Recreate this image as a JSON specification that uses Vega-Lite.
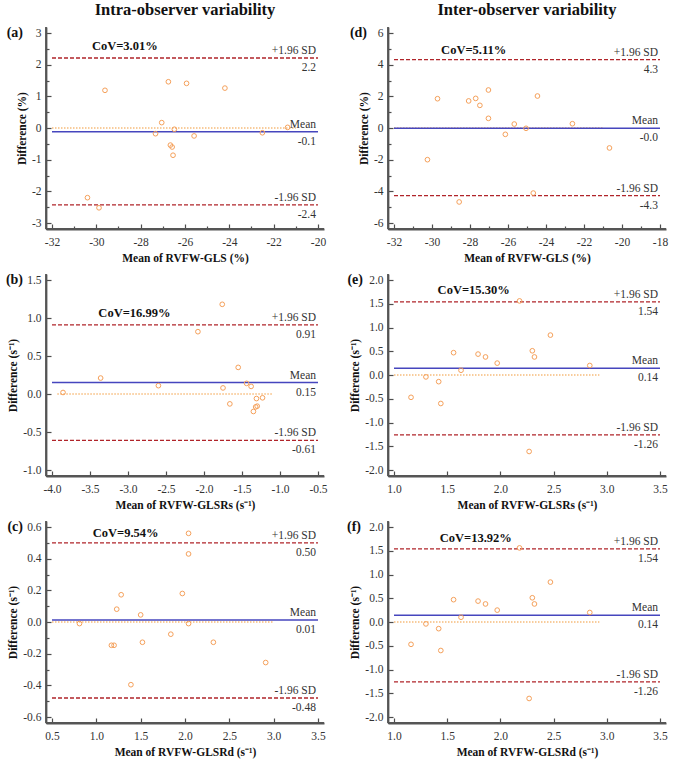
{
"$schema":"https://vega.github.io/schema/vega-lite/v6.json",
"padding":{"left":5,"top":1,"right":5,"bottom":3},
"columns":2,
"spacing":{"row":45,"column":64},
"bounds":"flush",
"datasets":{
"points":[
{"panel":"a","x":-29.61,"y":1.19},{"panel":"a","x":-30.40,"y":-2.20},{"panel":"a","x":-29.88,"y":-2.52},{"panel":"a","x":-26.75,"y":1.46},{"panel":"a","x":-25.93,"y":1.41},{"panel":"a","x":-24.20,"y":1.26},{"panel":"a","x":-27.05,"y":0.17},{"panel":"a","x":-27.33,"y":-0.18},{"panel":"a","x":-26.48,"y":-0.04},{"panel":"a","x":-26.66,"y":-0.54},{"panel":"a","x":-26.58,"y":-0.60},{"panel":"a","x":-26.54,"y":-0.86},{"panel":"a","x":-25.59,"y":-0.25},{"panel":"a","x":-22.51,"y":-0.15},{"panel":"a","x":-21.37,"y":0.02},
{"panel":"d","x":-29.71,"y":1.85},{"panel":"d","x":-30.24,"y":-2.0},{"panel":"d","x":-28.57,"y":-4.67},{"panel":"d","x":-28.07,"y":1.71},{"panel":"d","x":-27.70,"y":1.87},{"panel":"d","x":-27.48,"y":1.43},{"panel":"d","x":-27.03,"y":2.40},{"panel":"d","x":-27.03,"y":0.61},{"panel":"d","x":-25.67,"y":0.25},{"panel":"d","x":-26.14,"y":-0.40},{"panel":"d","x":-25.05,"y":-0.02},{"panel":"d","x":-24.45,"y":2.02},{"panel":"d","x":-24.67,"y":-4.11},{"panel":"d","x":-22.61,"y":0.27},{"panel":"d","x":-20.66,"y":-1.26},
{"panel":"b","x":-3.855,"y":0.02},{"panel":"b","x":-3.36,"y":0.21},{"panel":"b","x":-2.60,"y":0.11},{"panel":"b","x":-2.08,"y":0.82},{"panel":"b","x":-1.76,"y":1.18},{"panel":"b","x":-1.75,"y":0.08},{"panel":"b","x":-1.66,"y":-0.13},{"panel":"b","x":-1.55,"y":0.35},{"panel":"b","x":-1.44,"y":0.14},{"panel":"b","x":-1.38,"y":0.10},{"panel":"b","x":-1.35,"y":-0.23},{"panel":"b","x":-1.32,"y":-0.17},{"panel":"b","x":-1.30,"y":-0.16},{"panel":"b","x":-1.31,"y":-0.06},{"panel":"b","x":-1.23,"y":-0.05},
{"panel":"e","x":1.16,"y":-0.47},{"panel":"e","x":1.30,"y":-0.04},{"panel":"e","x":1.42,"y":-0.14},{"panel":"e","x":1.44,"y":-0.60},{"panel":"e","x":1.56,"y":0.47},{"panel":"e","x":1.63,"y":0.10},{"panel":"e","x":1.79,"y":0.44},{"panel":"e","x":1.86,"y":0.38},{"panel":"e","x":1.97,"y":0.25},{"panel":"e","x":2.18,"y":1.56},{"panel":"e","x":2.27,"y":-1.61},{"panel":"e","x":2.30,"y":0.51},{"panel":"e","x":2.32,"y":0.38},{"panel":"e","x":2.47,"y":0.84},{"panel":"e","x":2.84,"y":0.20},
{"panel":"c","x":0.81,"y":-0.01},{"panel":"c","x":1.17,"y":-0.147},{"panel":"c","x":1.20,"y":-0.147},{"panel":"c","x":1.23,"y":0.081},{"panel":"c","x":1.28,"y":0.172},{"panel":"c","x":1.39,"y":-0.396},{"panel":"c","x":1.50,"y":0.045},{"panel":"c","x":1.52,"y":-0.128},{"panel":"c","x":1.84,"y":-0.077},{"panel":"c","x":1.97,"y":0.180},{"panel":"c","x":2.04,"y":0.56},{"panel":"c","x":2.04,"y":0.43},{"panel":"c","x":2.04,"y":-0.01},{"panel":"c","x":2.32,"y":-0.128},{"panel":"c","x":2.91,"y":-0.256},
{"panel":"f","x":1.16,"y":-0.47},{"panel":"f","x":1.30,"y":-0.04},{"panel":"f","x":1.42,"y":-0.14},{"panel":"f","x":1.44,"y":-0.60},{"panel":"f","x":1.56,"y":0.47},{"panel":"f","x":1.63,"y":0.10},{"panel":"f","x":1.79,"y":0.44},{"panel":"f","x":1.86,"y":0.38},{"panel":"f","x":1.97,"y":0.25},{"panel":"f","x":2.18,"y":1.56},{"panel":"f","x":2.27,"y":-1.61},{"panel":"f","x":2.30,"y":0.51},{"panel":"f","x":2.32,"y":0.38},{"panel":"f","x":2.47,"y":0.84},{"panel":"f","x":2.84,"y":0.20}
],
"lines":[
{"panel":"a","kind":"upper","y":2.21,"label":"+1.96 SD","val":"2.2"},{"panel":"a","kind":"mean","y":-0.12,"label":"Mean","val":"-0.1"},{"panel":"a","kind":"lower","y":-2.43,"label":"-1.96 SD","val":"-2.4"},
{"panel":"d","kind":"upper","y":4.32,"label":"+1.96 SD","val":"4.3"},{"panel":"d","kind":"mean","y":-0.02,"label":"Mean","val":"-0.0"},{"panel":"d","kind":"lower","y":-4.27,"label":"-1.96 SD","val":"-4.3"},
{"panel":"b","kind":"upper","y":0.91,"label":"+1.96 SD","val":"0.91"},{"panel":"b","kind":"mean","y":0.15,"label":"Mean","val":"0.15"},{"panel":"b","kind":"lower","y":-0.61,"label":"-1.96 SD","val":"-0.61"},
{"panel":"e","kind":"upper","y":1.54,"label":"+1.96 SD","val":"1.54"},{"panel":"e","kind":"mean","y":0.14,"label":"Mean","val":"0.14"},{"panel":"e","kind":"lower","y":-1.26,"label":"-1.96 SD","val":"-1.26"},
{"panel":"c","kind":"upper","y":0.50,"label":"+1.96 SD","val":"0.50"},{"panel":"c","kind":"mean","y":0.012,"label":"Mean","val":"0.01"},{"panel":"c","kind":"lower","y":-0.48,"label":"-1.96 SD","val":"-0.48"},
{"panel":"f","kind":"upper","y":1.54,"label":"+1.96 SD","val":"1.54"},{"panel":"f","kind":"mean","y":0.14,"label":"Mean","val":"0.14"},{"panel":"f","kind":"lower","y":-1.26,"label":"-1.96 SD","val":"-1.26"}
],
"zero":[
{"panel":"a","x1":-32,"x2":-21,"y":0},{"panel":"d","x1":-32,"x2":-21,"y":0},{"panel":"b","x1":-3.93,"x2":-1.1,"y":0},{"panel":"e","x1":1.0,"x2":2.93,"y":0},{"panel":"c","x1":0.5,"x2":3.0,"y":0},{"panel":"f","x1":1.0,"x2":2.93,"y":0}
],
"cov":[
{"panel":"a","x":-30.2,"y":2.58,"text":"CoV=3.01%"},{"panel":"d","x":-29.52,"y":4.95,"text":"CoV=5.11%"},{"panel":"b","x":-3.39,"y":1.07,"text":"CoV=16.99%"},{"panel":"e","x":1.41,"y":1.78,"text":"CoV=15.30%"},{"panel":"c","x":0.96,"y":0.564,"text":"CoV=9.54%"},{"panel":"f","x":1.43,"y":1.77,"text":"CoV=13.92%"}
],
"plabel":[
{"panel":"a","text":"(a)"},{"panel":"b","text":"(b)"},{"panel":"c","text":"(c)"},{"panel":"d","text":"(d)"},{"panel":"e","text":"(e)"},{"panel":"f","text":"(f)"}
]
},
"concat":[
{
"width":278,"height":202,
"title":{"text":"Intra-observer variability"},
"resolve":{"axis":{"x":"independent","y":"independent"}},
"layer":[
{"data":{"name":"points"},"transform":[{"filter":"datum.panel==='a'"}],"mark":{"type":"point","shape":"circle","filled":false,"color":"#F5A05A","size":22,"opacity":0},
"encoding":{"x":{"field":"x","type":"quantitative","scale":{"domain":[-32,-20],"nice":false,"zero":false,"padding":6},"axis":{"title":"Mean of RVFW-GLS (%)","values":[-32,-30,-28,-26,-24,-22,-20],"orient":"bottom"}},"y":{"field":"y","type":"quantitative","scale":{"domain":[-3,3],"nice":false,"zero":false,"padding":6},"axis":{"title":"Difference (%)","values":[-3,-2,-1,0,1,2,3],"orient":"left"}}}},
{"data":{"name":"plabel"},"transform":[{"filter":"datum.panel==='a'"}],"mark":{"type":"rule","color":"#555555","strokeWidth":1.8},"encoding":{"x":{"datum":-32.2707,"type":"quantitative","axis":null}}},
{"data":{"name":"plabel"},"transform":[{"filter":"datum.panel==='a'"}],"mark":{"type":"rule","color":"#555555","strokeWidth":1.8},"encoding":{"y":{"datum":-3.1895,"type":"quantitative","axis":null}}},
{"data":{"name":"zero"},"transform":[{"filter":"datum.panel==='a'"}],"mark":{"type":"rule","color":"#F29A3A","strokeDash":[1.5,1.5],"strokeWidth":1.2},
"encoding":{"x":{"field":"x1","type":"quantitative","axis":{"values":[-31,-29,-27,-25,-23,-21],"labels":false,"domain":false,"tickSize":-3,"title":null,"orient":"bottom"}},"x2":{"field":"x2"},"y":{"field":"y","type":"quantitative","axis":{"values":[-2.5,-1.5,-0.5,0.5,1.5,2.5],"labels":false,"domain":false,"tickSize":-3,"title":null,"orient":"left"}}}},
{"data":{"name":"lines"},"transform":[{"filter":"datum.panel==='a' && datum.kind!=='mean'"}],"mark":{"type":"rule","color":"#B0242A","strokeDash":[4,2],"strokeWidth":1.3},"encoding":{"x":{"datum":-32,"type":"quantitative","axis":null},"x2":{"datum":-20},"y":{"field":"y","type":"quantitative","axis":null}}},
{"data":{"name":"lines"},"transform":[{"filter":"datum.panel==='a' && datum.kind==='mean'"}],"mark":{"type":"rule","color":"#4646BE","strokeWidth":1.5},"encoding":{"x":{"datum":-32,"type":"quantitative","axis":null},"x2":{"datum":-20},"y":{"field":"y","type":"quantitative","axis":null}}},
{"data":{"name":"lines"},"transform":[{"filter":"datum.panel==='a'"}],"mark":{"type":"text","align":"right","baseline":"bottom","dx":-2,"dy":-2,"font":"Liberation Serif","fontSize":11.5,"color":"#333333"},"encoding":{"x":{"datum":-20,"type":"quantitative","axis":null},"y":{"field":"y","type":"quantitative","axis":null},"text":{"field":"label"}}},
{"data":{"name":"lines"},"transform":[{"filter":"datum.panel==='a'"}],"mark":{"type":"text","align":"right","baseline":"top","dx":-2,"dy":4,"font":"Liberation Serif","fontSize":11.5,"color":"#333333"},"encoding":{"x":{"datum":-20,"type":"quantitative","axis":null},"y":{"field":"y","type":"quantitative","axis":null},"text":{"field":"val"}}},
{"data":{"name":"cov"},"transform":[{"filter":"datum.panel==='a'"}],"mark":{"type":"text","align":"left","baseline":"middle","font":"Liberation Serif","fontSize":12.5,"fontWeight":"bold","color":"#111111"},"encoding":{"x":{"field":"x","type":"quantitative","axis":null},"y":{"field":"y","type":"quantitative","axis":null},"text":{"field":"text"}}},
{"data":{"name":"plabel"},"transform":[{"filter":"datum.panel==='a'"}],"mark":{"type":"text","align":"right","baseline":"middle","dx":-29,"font":"Liberation Serif","fontSize":14,"fontWeight":"bold","color":"#111111"},"encoding":{"x":{"datum":-32,"type":"quantitative","axis":null},"y":{"datum":3,"type":"quantitative","axis":null},"text":{"field":"text"}}},
{"data":{"name":"points"},"transform":[{"filter":"datum.panel==='a'"}],"mark":{"type":"point","shape":"circle","filled":false,"color":"#F5A05A","strokeWidth":1,"size":22,"opacity":1},
"encoding":{"x":{"field":"x","type":"quantitative","axis":null},"y":{"field":"y","type":"quantitative","axis":null}}}
]
},
{
"width":278,"height":202,
"title":{"text":"Inter-observer variability"},
"resolve":{"axis":{"x":"independent","y":"independent"}},
"layer":[
{"data":{"name":"points"},"transform":[{"filter":"datum.panel==='d'"}],"mark":{"type":"point","shape":"circle","filled":false,"color":"#F5A05A","size":22,"opacity":0},
"encoding":{"x":{"field":"x","type":"quantitative","scale":{"domain":[-32,-18],"nice":false,"zero":false,"padding":6},"axis":{"title":"Mean of RVFW-GLS (%)","values":[-32,-30,-28,-26,-24,-22,-20,-18],"orient":"bottom"}},"y":{"field":"y","type":"quantitative","scale":{"domain":[-6,6],"nice":false,"zero":false,"padding":6},"axis":{"title":"Difference (%)","values":[-6,-4,-2,0,2,4,6],"orient":"left"}}}},
{"data":{"name":"plabel"},"transform":[{"filter":"datum.panel==='d'"}],"mark":{"type":"rule","color":"#555555","strokeWidth":1.8},"encoding":{"x":{"datum":-32.3158,"type":"quantitative","axis":null}}},
{"data":{"name":"plabel"},"transform":[{"filter":"datum.panel==='d'"}],"mark":{"type":"rule","color":"#555555","strokeWidth":1.8},"encoding":{"y":{"datum":-6.3789,"type":"quantitative","axis":null}}},
{"data":{"name":"zero"},"transform":[{"filter":"datum.panel==='d'"}],"mark":{"type":"rule","color":"#F29A3A","strokeDash":[1.5,1.5],"strokeWidth":1.2},
"encoding":{"x":{"field":"x1","type":"quantitative","axis":{"values":[-31,-29,-27,-25,-23,-21,-19],"labels":false,"domain":false,"tickSize":-3,"title":null,"orient":"bottom"}},"x2":{"field":"x2"},"y":{"field":"y","type":"quantitative","axis":{"values":[-5,-3,-1,1,3,5],"labels":false,"domain":false,"tickSize":-3,"title":null,"orient":"left"}}}},
{"data":{"name":"lines"},"transform":[{"filter":"datum.panel==='d' && datum.kind!=='mean'"}],"mark":{"type":"rule","color":"#B0242A","strokeDash":[4,2],"strokeWidth":1.3},"encoding":{"x":{"datum":-32,"type":"quantitative","axis":null},"x2":{"datum":-18},"y":{"field":"y","type":"quantitative","axis":null}}},
{"data":{"name":"lines"},"transform":[{"filter":"datum.panel==='d' && datum.kind==='mean'"}],"mark":{"type":"rule","color":"#4646BE","strokeWidth":1.5},"encoding":{"x":{"datum":-32,"type":"quantitative","axis":null},"x2":{"datum":-18},"y":{"field":"y","type":"quantitative","axis":null}}},
{"data":{"name":"lines"},"transform":[{"filter":"datum.panel==='d'"}],"mark":{"type":"text","align":"right","baseline":"bottom","dx":-2,"dy":-2,"font":"Liberation Serif","fontSize":11.5,"color":"#333333"},"encoding":{"x":{"datum":-18,"type":"quantitative","axis":null},"y":{"field":"y","type":"quantitative","axis":null},"text":{"field":"label"}}},
{"data":{"name":"lines"},"transform":[{"filter":"datum.panel==='d'"}],"mark":{"type":"text","align":"right","baseline":"top","dx":-2,"dy":4,"font":"Liberation Serif","fontSize":11.5,"color":"#333333"},"encoding":{"x":{"datum":-18,"type":"quantitative","axis":null},"y":{"field":"y","type":"quantitative","axis":null},"text":{"field":"val"}}},
{"data":{"name":"cov"},"transform":[{"filter":"datum.panel==='d'"}],"mark":{"type":"text","align":"left","baseline":"middle","font":"Liberation Serif","fontSize":12.5,"fontWeight":"bold","color":"#111111"},"encoding":{"x":{"field":"x","type":"quantitative","axis":null},"y":{"field":"y","type":"quantitative","axis":null},"text":{"field":"text"}}},
{"data":{"name":"plabel"},"transform":[{"filter":"datum.panel==='d'"}],"mark":{"type":"text","align":"right","baseline":"middle","dx":-27,"font":"Liberation Serif","fontSize":14,"fontWeight":"bold","color":"#111111"},"encoding":{"x":{"datum":-32,"type":"quantitative","axis":null},"y":{"datum":6,"type":"quantitative","axis":null},"text":{"field":"text"}}},
{"data":{"name":"points"},"transform":[{"filter":"datum.panel==='d'"}],"mark":{"type":"point","shape":"circle","filled":false,"color":"#F5A05A","strokeWidth":1,"size":22,"opacity":1},
"encoding":{"x":{"field":"x","type":"quantitative","axis":null},"y":{"field":"y","type":"quantitative","axis":null}}}
]
},
{
"width":278,"height":202,
"resolve":{"axis":{"x":"independent","y":"independent"}},
"layer":[
{"data":{"name":"points"},"transform":[{"filter":"datum.panel==='b'"}],"mark":{"type":"point","shape":"circle","filled":false,"color":"#F5A05A","size":22,"opacity":0},
"encoding":{"x":{"field":"x","type":"quantitative","scale":{"domain":[-4,-0.5],"nice":false,"zero":false,"padding":6},"axis":{"title":"Mean of RVFW-GLSRs (s⁻¹)","values":[-4,-3.5,-3,-2.5,-2,-1.5,-1,-0.5],"format":".1f","orient":"bottom"}},"y":{"field":"y","type":"quantitative","scale":{"domain":[-1,1.5],"nice":false,"zero":false,"padding":6},"axis":{"title":"Difference (s⁻¹)","values":[-1,-0.5,0,0.5,1,1.5],"format":".1f","orient":"left"}}}},
{"data":{"name":"plabel"},"transform":[{"filter":"datum.panel==='b'"}],"mark":{"type":"rule","color":"#555555","strokeWidth":1.8},"encoding":{"x":{"datum":-4.0789,"type":"quantitative","axis":null}}},
{"data":{"name":"plabel"},"transform":[{"filter":"datum.panel==='b'"}],"mark":{"type":"rule","color":"#555555","strokeWidth":1.8},"encoding":{"y":{"datum":-1.0789,"type":"quantitative","axis":null}}},
{"data":{"name":"zero"},"transform":[{"filter":"datum.panel==='b'"}],"mark":{"type":"rule","color":"#F29A3A","strokeDash":[1.5,1.5],"strokeWidth":1.2},
"encoding":{"x":{"field":"x1","type":"quantitative","axis":null},"x2":{"field":"x2"},"y":{"field":"y","type":"quantitative","axis":null}}},
{"data":{"name":"lines"},"transform":[{"filter":"datum.panel==='b' && datum.kind!=='mean'"}],"mark":{"type":"rule","color":"#B0242A","strokeDash":[4,2],"strokeWidth":1.3},"encoding":{"x":{"datum":-4,"type":"quantitative","axis":null},"x2":{"datum":-0.5},"y":{"field":"y","type":"quantitative","axis":null}}},
{"data":{"name":"lines"},"transform":[{"filter":"datum.panel==='b' && datum.kind==='mean'"}],"mark":{"type":"rule","color":"#4646BE","strokeWidth":1.5},"encoding":{"x":{"datum":-4,"type":"quantitative","axis":null},"x2":{"datum":-0.5},"y":{"field":"y","type":"quantitative","axis":null}}},
{"data":{"name":"lines"},"transform":[{"filter":"datum.panel==='b'"}],"mark":{"type":"text","align":"right","baseline":"bottom","dx":-2,"dy":-2,"font":"Liberation Serif","fontSize":11.5,"color":"#333333"},"encoding":{"x":{"datum":-0.5,"type":"quantitative","axis":null},"y":{"field":"y","type":"quantitative","axis":null},"text":{"field":"label"}}},
{"data":{"name":"lines"},"transform":[{"filter":"datum.panel==='b'"}],"mark":{"type":"text","align":"right","baseline":"top","dx":-2,"dy":4,"font":"Liberation Serif","fontSize":11.5,"color":"#333333"},"encoding":{"x":{"datum":-0.5,"type":"quantitative","axis":null},"y":{"field":"y","type":"quantitative","axis":null},"text":{"field":"val"}}},
{"data":{"name":"cov"},"transform":[{"filter":"datum.panel==='b'"}],"mark":{"type":"text","align":"left","baseline":"middle","font":"Liberation Serif","fontSize":12.5,"fontWeight":"bold","color":"#111111"},"encoding":{"x":{"field":"x","type":"quantitative","axis":null},"y":{"field":"y","type":"quantitative","axis":null},"text":{"field":"text"}}},
{"data":{"name":"plabel"},"transform":[{"filter":"datum.panel==='b'"}],"mark":{"type":"text","align":"right","baseline":"middle","dx":-29,"font":"Liberation Serif","fontSize":14,"fontWeight":"bold","color":"#111111"},"encoding":{"x":{"datum":-4,"type":"quantitative","axis":null},"y":{"datum":1.5,"type":"quantitative","axis":null},"text":{"field":"text"}}},
{"data":{"name":"points"},"transform":[{"filter":"datum.panel==='b'"}],"mark":{"type":"point","shape":"circle","filled":false,"color":"#F5A05A","strokeWidth":1,"size":22,"opacity":1},
"encoding":{"x":{"field":"x","type":"quantitative","axis":null},"y":{"field":"y","type":"quantitative","axis":null}}}
]
},
{
"width":278,"height":202,
"resolve":{"axis":{"x":"independent","y":"independent"}},
"layer":[
{"data":{"name":"points"},"transform":[{"filter":"datum.panel==='e'"}],"mark":{"type":"point","shape":"circle","filled":false,"color":"#F5A05A","size":22,"opacity":0},
"encoding":{"x":{"field":"x","type":"quantitative","scale":{"domain":[1,3.5],"nice":false,"zero":false,"padding":6},"axis":{"title":"Mean of RVFW-GLSRs (s⁻¹)","values":[1,1.5,2,2.5,3,3.5],"format":".1f","orient":"bottom"}},"y":{"field":"y","type":"quantitative","scale":{"domain":[-2,2],"nice":false,"zero":false,"padding":6},"axis":{"title":"Difference (s⁻¹)","values":[-2,-1.5,-1,-0.5,0,0.5,1,1.5,2],"format":".1f","orient":"left"}}}},
{"data":{"name":"plabel"},"transform":[{"filter":"datum.panel==='e'"}],"mark":{"type":"rule","color":"#555555","strokeWidth":1.8},"encoding":{"x":{"datum":0.94361,"type":"quantitative","axis":null}}},
{"data":{"name":"plabel"},"transform":[{"filter":"datum.panel==='e'"}],"mark":{"type":"rule","color":"#555555","strokeWidth":1.8},"encoding":{"y":{"datum":-2.12632,"type":"quantitative","axis":null}}},
{"data":{"name":"zero"},"transform":[{"filter":"datum.panel==='e'"}],"mark":{"type":"rule","color":"#F29A3A","strokeDash":[1.5,1.5],"strokeWidth":1.2},
"encoding":{"x":{"field":"x1","type":"quantitative","axis":null},"x2":{"field":"x2"},"y":{"field":"y","type":"quantitative","axis":null}}},
{"data":{"name":"lines"},"transform":[{"filter":"datum.panel==='e' && datum.kind!=='mean'"}],"mark":{"type":"rule","color":"#B0242A","strokeDash":[4,2],"strokeWidth":1.3},"encoding":{"x":{"datum":1,"type":"quantitative","axis":null},"x2":{"datum":3.5},"y":{"field":"y","type":"quantitative","axis":null}}},
{"data":{"name":"lines"},"transform":[{"filter":"datum.panel==='e' && datum.kind==='mean'"}],"mark":{"type":"rule","color":"#4646BE","strokeWidth":1.5},"encoding":{"x":{"datum":1,"type":"quantitative","axis":null},"x2":{"datum":3.5},"y":{"field":"y","type":"quantitative","axis":null}}},
{"data":{"name":"lines"},"transform":[{"filter":"datum.panel==='e'"}],"mark":{"type":"text","align":"right","baseline":"bottom","dx":-2,"dy":-2,"font":"Liberation Serif","fontSize":11.5,"color":"#333333"},"encoding":{"x":{"datum":3.5,"type":"quantitative","axis":null},"y":{"field":"y","type":"quantitative","axis":null},"text":{"field":"label"}}},
{"data":{"name":"lines"},"transform":[{"filter":"datum.panel==='e'"}],"mark":{"type":"text","align":"right","baseline":"top","dx":-2,"dy":4,"font":"Liberation Serif","fontSize":11.5,"color":"#333333"},"encoding":{"x":{"datum":3.5,"type":"quantitative","axis":null},"y":{"field":"y","type":"quantitative","axis":null},"text":{"field":"val"}}},
{"data":{"name":"cov"},"transform":[{"filter":"datum.panel==='e'"}],"mark":{"type":"text","align":"left","baseline":"middle","font":"Liberation Serif","fontSize":12.5,"fontWeight":"bold","color":"#111111"},"encoding":{"x":{"field":"x","type":"quantitative","axis":null},"y":{"field":"y","type":"quantitative","axis":null},"text":{"field":"text"}}},
{"data":{"name":"plabel"},"transform":[{"filter":"datum.panel==='e'"}],"mark":{"type":"text","align":"right","baseline":"middle","dx":-31,"font":"Liberation Serif","fontSize":14,"fontWeight":"bold","color":"#111111"},"encoding":{"x":{"datum":1,"type":"quantitative","axis":null},"y":{"datum":2,"type":"quantitative","axis":null},"text":{"field":"text"}}},
{"data":{"name":"points"},"transform":[{"filter":"datum.panel==='e'"}],"mark":{"type":"point","shape":"circle","filled":false,"color":"#F5A05A","strokeWidth":1,"size":22,"opacity":1},
"encoding":{"x":{"field":"x","type":"quantitative","axis":null},"y":{"field":"y","type":"quantitative","axis":null}}}
]
},
{
"width":278,"height":202,
"resolve":{"axis":{"x":"independent","y":"independent"}},
"layer":[
{"data":{"name":"points"},"transform":[{"filter":"datum.panel==='c'"}],"mark":{"type":"point","shape":"circle","filled":false,"color":"#F5A05A","size":22,"opacity":0},
"encoding":{"x":{"field":"x","type":"quantitative","scale":{"domain":[0.5,3.5],"nice":false,"zero":false,"padding":6},"axis":{"title":"Mean of RVFW-GLSRd (s⁻¹)","values":[0.5,1,1.5,2,2.5,3,3.5],"format":".1f","orient":"bottom"}},"y":{"field":"y","type":"quantitative","scale":{"domain":[-0.6,0.6],"nice":false,"zero":false,"padding":6},"axis":{"title":"Difference (s⁻¹)","values":[-0.6,-0.4,-0.2,0,0.2,0.4,0.6],"format":".1f","orient":"left"}}}},
{"data":{"name":"plabel"},"transform":[{"filter":"datum.panel==='c'"}],"mark":{"type":"rule","color":"#555555","strokeWidth":1.8},"encoding":{"x":{"datum":0.43233,"type":"quantitative","axis":null}}},
{"data":{"name":"plabel"},"transform":[{"filter":"datum.panel==='c'"}],"mark":{"type":"rule","color":"#555555","strokeWidth":1.8},"encoding":{"y":{"datum":-0.63789,"type":"quantitative","axis":null}}},
{"data":{"name":"zero"},"transform":[{"filter":"datum.panel==='c'"}],"mark":{"type":"rule","color":"#F29A3A","strokeDash":[1.5,1.5],"strokeWidth":1.2},
"encoding":{"x":{"field":"x1","type":"quantitative","axis":null},"x2":{"field":"x2"},"y":{"field":"y","type":"quantitative","axis":{"values":[-0.5,-0.3,-0.1,0.1,0.3,0.5],"labels":false,"domain":false,"tickSize":-3,"title":null,"orient":"left"}}}},
{"data":{"name":"lines"},"transform":[{"filter":"datum.panel==='c' && datum.kind!=='mean'"}],"mark":{"type":"rule","color":"#B0242A","strokeDash":[4,2],"strokeWidth":1.3},"encoding":{"x":{"datum":0.5,"type":"quantitative","axis":null},"x2":{"datum":3.5},"y":{"field":"y","type":"quantitative","axis":null}}},
{"data":{"name":"lines"},"transform":[{"filter":"datum.panel==='c' && datum.kind==='mean'"}],"mark":{"type":"rule","color":"#4646BE","strokeWidth":1.5},"encoding":{"x":{"datum":0.5,"type":"quantitative","axis":null},"x2":{"datum":3.5},"y":{"field":"y","type":"quantitative","axis":null}}},
{"data":{"name":"lines"},"transform":[{"filter":"datum.panel==='c'"}],"mark":{"type":"text","align":"right","baseline":"bottom","dx":-2,"dy":-2,"font":"Liberation Serif","fontSize":11.5,"color":"#333333"},"encoding":{"x":{"datum":3.5,"type":"quantitative","axis":null},"y":{"field":"y","type":"quantitative","axis":null},"text":{"field":"label"}}},
{"data":{"name":"lines"},"transform":[{"filter":"datum.panel==='c'"}],"mark":{"type":"text","align":"right","baseline":"top","dx":-2,"dy":4,"font":"Liberation Serif","fontSize":11.5,"color":"#333333"},"encoding":{"x":{"datum":3.5,"type":"quantitative","axis":null},"y":{"field":"y","type":"quantitative","axis":null},"text":{"field":"val"}}},
{"data":{"name":"cov"},"transform":[{"filter":"datum.panel==='c'"}],"mark":{"type":"text","align":"left","baseline":"middle","font":"Liberation Serif","fontSize":12.5,"fontWeight":"bold","color":"#111111"},"encoding":{"x":{"field":"x","type":"quantitative","axis":null},"y":{"field":"y","type":"quantitative","axis":null},"text":{"field":"text"}}},
{"data":{"name":"plabel"},"transform":[{"filter":"datum.panel==='c'"}],"mark":{"type":"text","align":"right","baseline":"middle","dx":-29,"font":"Liberation Serif","fontSize":14,"fontWeight":"bold","color":"#111111"},"encoding":{"x":{"datum":0.5,"type":"quantitative","axis":null},"y":{"datum":0.6,"type":"quantitative","axis":null},"text":{"field":"text"}}},
{"data":{"name":"points"},"transform":[{"filter":"datum.panel==='c'"}],"mark":{"type":"point","shape":"circle","filled":false,"color":"#F5A05A","strokeWidth":1,"size":22,"opacity":1},
"encoding":{"x":{"field":"x","type":"quantitative","axis":null},"y":{"field":"y","type":"quantitative","axis":null}}}
]
},
{
"width":278,"height":202,
"resolve":{"axis":{"x":"independent","y":"independent"}},
"layer":[
{"data":{"name":"points"},"transform":[{"filter":"datum.panel==='f'"}],"mark":{"type":"point","shape":"circle","filled":false,"color":"#F5A05A","size":22,"opacity":0},
"encoding":{"x":{"field":"x","type":"quantitative","scale":{"domain":[1,3.5],"nice":false,"zero":false,"padding":6},"axis":{"title":"Mean of RVFW-GLSRd (s⁻¹)","values":[1,1.5,2,2.5,3,3.5],"format":".1f","orient":"bottom"}},"y":{"field":"y","type":"quantitative","scale":{"domain":[-2,2],"nice":false,"zero":false,"padding":6},"axis":{"title":"Difference (s⁻¹)","values":[-2,-1.5,-1,-0.5,0,0.5,1,1.5,2],"format":".1f","orient":"left"}}}},
{"data":{"name":"plabel"},"transform":[{"filter":"datum.panel==='f'"}],"mark":{"type":"rule","color":"#555555","strokeWidth":1.8},"encoding":{"x":{"datum":0.94361,"type":"quantitative","axis":null}}},
{"data":{"name":"plabel"},"transform":[{"filter":"datum.panel==='f'"}],"mark":{"type":"rule","color":"#555555","strokeWidth":1.8},"encoding":{"y":{"datum":-2.12632,"type":"quantitative","axis":null}}},
{"data":{"name":"zero"},"transform":[{"filter":"datum.panel==='f'"}],"mark":{"type":"rule","color":"#F29A3A","strokeDash":[1.5,1.5],"strokeWidth":1.2},
"encoding":{"x":{"field":"x1","type":"quantitative","axis":null},"x2":{"field":"x2"},"y":{"field":"y","type":"quantitative","axis":null}}},
{"data":{"name":"lines"},"transform":[{"filter":"datum.panel==='f' && datum.kind!=='mean'"}],"mark":{"type":"rule","color":"#B0242A","strokeDash":[4,2],"strokeWidth":1.3},"encoding":{"x":{"datum":1,"type":"quantitative","axis":null},"x2":{"datum":3.5},"y":{"field":"y","type":"quantitative","axis":null}}},
{"data":{"name":"lines"},"transform":[{"filter":"datum.panel==='f' && datum.kind==='mean'"}],"mark":{"type":"rule","color":"#4646BE","strokeWidth":1.5},"encoding":{"x":{"datum":1,"type":"quantitative","axis":null},"x2":{"datum":3.5},"y":{"field":"y","type":"quantitative","axis":null}}},
{"data":{"name":"lines"},"transform":[{"filter":"datum.panel==='f'"}],"mark":{"type":"text","align":"right","baseline":"bottom","dx":-2,"dy":-2,"font":"Liberation Serif","fontSize":11.5,"color":"#333333"},"encoding":{"x":{"datum":3.5,"type":"quantitative","axis":null},"y":{"field":"y","type":"quantitative","axis":null},"text":{"field":"label"}}},
{"data":{"name":"lines"},"transform":[{"filter":"datum.panel==='f'"}],"mark":{"type":"text","align":"right","baseline":"top","dx":-2,"dy":4,"font":"Liberation Serif","fontSize":11.5,"color":"#333333"},"encoding":{"x":{"datum":3.5,"type":"quantitative","axis":null},"y":{"field":"y","type":"quantitative","axis":null},"text":{"field":"val"}}},
{"data":{"name":"cov"},"transform":[{"filter":"datum.panel==='f'"}],"mark":{"type":"text","align":"left","baseline":"middle","font":"Liberation Serif","fontSize":12.5,"fontWeight":"bold","color":"#111111"},"encoding":{"x":{"field":"x","type":"quantitative","axis":null},"y":{"field":"y","type":"quantitative","axis":null},"text":{"field":"text"}}},
{"data":{"name":"plabel"},"transform":[{"filter":"datum.panel==='f'"}],"mark":{"type":"text","align":"right","baseline":"middle","dx":-33,"font":"Liberation Serif","fontSize":14,"fontWeight":"bold","color":"#111111"},"encoding":{"x":{"datum":1,"type":"quantitative","axis":null},"y":{"datum":2,"type":"quantitative","axis":null},"text":{"field":"text"}}},
{"data":{"name":"points"},"transform":[{"filter":"datum.panel==='f'"}],"mark":{"type":"point","shape":"circle","filled":false,"color":"#F5A05A","strokeWidth":1,"size":22,"opacity":1},
"encoding":{"x":{"field":"x","type":"quantitative","axis":null},"y":{"field":"y","type":"quantitative","axis":null}}}
]
}
],
"config":{
"background":"white",
"view":{"stroke":null},
"locale":{"number":{"decimal":".","thousands":",","grouping":[3],"currency":["$",""],"minus":"-"}},
"axis":{"grid":false,"domain":true,"labelFont":"Liberation Serif","labelFontSize":11.5,"labelColor":"#333333","titleFont":"Liberation Serif","titleFontSize":11.5,"titleFontWeight":"bold","titleColor":"#111111","domainColor":"#555555","domainWidth":1.8,"tickColor":"#4d4d4d","tickWidth":1.2,"tickSize":-5,"offset":0},
"axisX":{"labelPadding":12,"titlePadding":5},
"axisY":{"labelPadding":10,"titlePadding":4},
"title":{"font":"Liberation Serif","fontSize":16.5,"fontWeight":"bold","color":"#111111","anchor":"middle","frame":"group","offset":8}
}
}
